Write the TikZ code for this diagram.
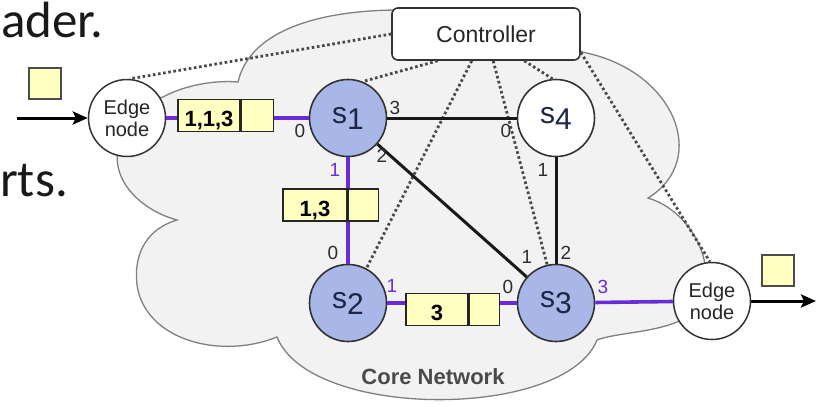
\documentclass[tikz,border=0pt]{standalone}
\usepackage{fontspec}
\setmainfont{Liberation Sans}
\newfontfamily\slidefont{Carlito}
\usetikzlibrary{arrows.meta,calc}
\definecolor{cloudfill}{HTML}{F2F2F2}
\definecolor{cloudline}{HTML}{808080}
\definecolor{swblue}{HTML}{A9B7E8}
\definecolor{pktyellow}{HTML}{FFFFC0}
\definecolor{pathpurple}{HTML}{6A2BD9}
\definecolor{portgray}{HTML}{2E2E2E}
\definecolor{dotgray}{HTML}{4A4A4A}
\definecolor{nodeline}{HTML}{333333}
\definecolor{swtext}{HTML}{1E2545}
\definecolor{coregray}{HTML}{4A4A4A}
\newcommand{\swname}[1]{s\raisebox{-6pt}{#1}}
\begin{document}
\begin{tikzpicture}[x=1pt,y=-1pt,
  sw/.style={circle, draw=nodeline, fill=swblue, line width=1.6pt, minimum size=77pt, inner sep=0pt,
    font=\fontsize{30}{30}\selectfont, text=swtext},
  edgen/.style={circle, draw=nodeline, fill=white, line width=1.5pt, minimum size=77pt, inner sep=0pt,
    align=center, font=\fontsize{20}{22}\selectfont, text=black!85},
  ctrlbox/.style={draw=nodeline, fill=white, line width=1.6pt, rounded corners=6pt, minimum width=188pt,
    minimum height=52pt, inner sep=0pt, font=\fontsize{23}{23}\selectfont, text=black!85},
  pkt/.style={draw=black!85, fill=pktyellow, line width=1.5pt, minimum height=32pt, inner sep=0pt,
    text height=22pt, text depth=0pt, font=\bfseries\fontsize{22}{22}\selectfont},
  sq/.style={draw=black!70, fill=pktyellow, line width=1.2pt, minimum width=32pt, minimum height=31pt, inner sep=0pt},
  pline/.style={draw=pathpurple, line width=3.6pt},
  bline/.style={draw=black!90, line width=3pt},
  arrowline/.style={draw=black, line width=3pt, -{Stealth[length=15pt,width=13pt,inset=3pt]}},
  ctl/.style={draw=dotgray, line width=2.8pt, dash pattern=on 2.6pt off 2.6pt},
  port/.style={inner sep=0pt, font=\fontsize{19}{19}\selectfont, text=portgray},
  pport/.style={port, text=pathpurple},
  slide/.style={inner sep=0pt, font=\slidefont\fontsize{51}{51}\selectfont, text=black!90}
]
\useasboundingbox (0,0) rectangle (817,407);

% cloud
\path[fill=cloudfill, draw=cloudline, line width=1.3pt]
  (238,82) .. controls (250,30) and (320,10) .. (400,10)
  .. controls (480,10) and (560,30) .. (582,52)
  .. controls (675,70) and (710,160) .. (648,198)
  .. controls (705,215) and (730,300) .. (677,322)
  .. controls (650,333) and (615,333) .. (597,340)
  .. controls (565,420) and (310,420) .. (277,337)
  .. controls (220,360) and (145,340) .. (137,285)
  .. controls (133,250) and (150,228) .. (177,220)
  .. controls (140,210) and (112,180) .. (118,150)
  .. controls (120,120) and (140,100) .. (163,97)
  .. controls (185,85) and (215,80) .. (238,82) -- cycle;

% slide text
\node[slide, anchor=base west] (t1) at (1,37) {ader.};
\node[slide, anchor=base west] (t2) at (0,196) {rts.};

% nodes
\node[edgen] (edgeL) at (127,118) {Edge\\node};
\node[sw] (s1) at (348,118) {\swname{1}};
\node[sw, fill=white] (s4) at (556,118) {\swname{4}};
\node[sw] (s2) at (348,303) {\swname{2}};
\node[sw] (s3) at (556,303) {\swname{3}};
\node[edgen] (edgeR) at (712,301) {Edge\\node};
\node[ctrlbox] (ctrl) at (486,34) {Controller};

% controller dotted links
\draw[ctl] (ctrl.west) -- (edgeL.86);
\draw[ctl] (ctrl.-151) -- (s1.68);
\draw[ctl] (ctrl.-118) -- (s2.62);
\draw[ctl] (ctrl.-75) -- (s3.103);
\draw[ctl] (ctrl.-35) -- (s4.95);
\draw[ctl] (ctrl.-11) -- (edgeR.93);

% links
\draw[bline] (s1) -- (s4);
\draw[bline] (s1) -- (s3);
\draw[bline] (s4) -- (s3);
\draw[pline] (edgeL) -- (s1);
\draw[pline] (s1) -- (s2);
\draw[pline] (s2) -- (s3);
\draw[pline] (s3) -- (edgeR);

% in/out arrows
\coordinate (inL) at (17,118);
\coordinate (outR) at (816,301);
\draw[arrowline] (inL) -- (edgeL);
\draw[arrowline] (edgeR) -- (outR);

% packets
\node[pkt, minimum width=62pt] (pk1a) at (209,115.5) {1,1,3};
\node[pkt, minimum width=32pt, anchor=west] (pk1b) at (pk1a.east) {};
\node[pkt, minimum width=64pt] (pk2a) at (315,205) {1,3};
\node[pkt, minimum width=30pt, anchor=west] (pk2b) at (pk2a.east) {};
\node[pkt, minimum width=62pt] (pk3a) at (437,309.5) {3};
\node[pkt, minimum width=30pt, anchor=west] (pk3b) at (pk3a.east) {};
\node[sq] (sqL) at (45,83.5) {};
\node[sq] (sqR) at (778,270.5) {};

% port labels
\node[port] (s1p0) at (300,131) {0};
\node[port] (s1p3) at (395,108) {3};
\node[port] (s1p2) at (382,156) {2};
\node[pport] (s1p1) at (335,170) {1};
\node[port] (s4p0) at (506,131) {0};
\node[port] (s4p1) at (543,170) {1};
\node[port] (s2p0) at (333,253) {0};
\node[pport] (s2p1) at (392,286) {1};
\node[port] (s3p0) at (508,287) {0};
\node[port] (s3p1) at (527,257) {1};
\node[port] (s3p2) at (566,253) {2};
\node[pport] (s3p3) at (603,287) {3};

% cloud label
\node[inner sep=0pt, font=\bfseries\fontsize{22}{22}\selectfont, text=coregray] (core) at (433,377) {Core Network};
\end{tikzpicture}
\end{document}
